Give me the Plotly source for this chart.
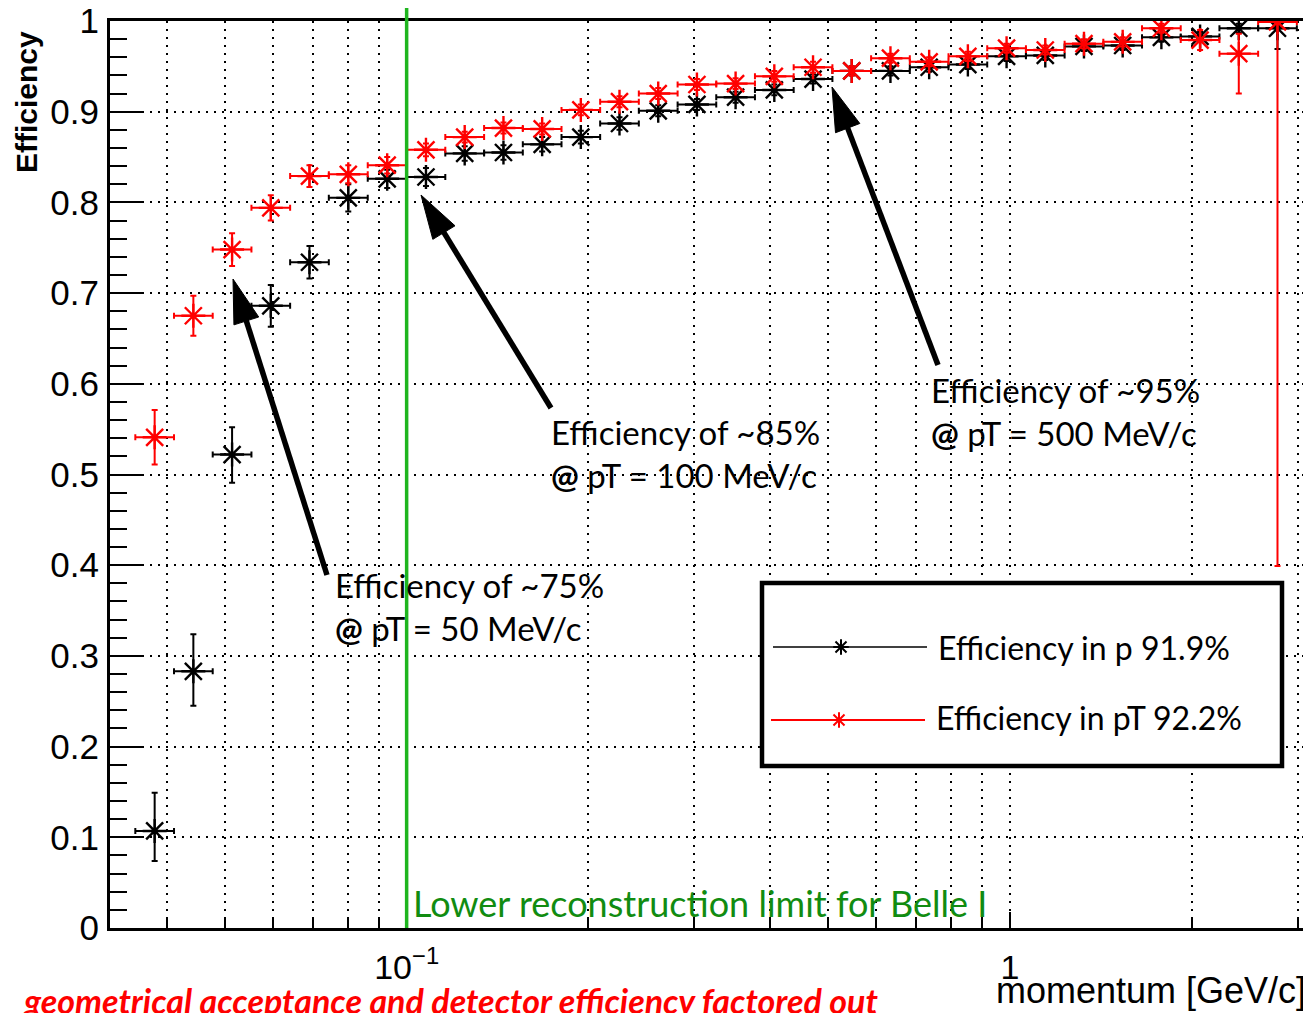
import math
import plotly.graph_objects as go

# ---------------- data ----------------
bin_edges = [0.0355, 0.04115, 0.0477, 0.0553, 0.0641, 0.0743, 0.0862, 0.1,
             0.1159, 0.1344, 0.1558, 0.1806, 0.2093, 0.2426, 0.2813, 0.326,
             0.3779, 0.4381, 0.5079, 0.5887, 0.6825, 0.7911, 0.9171, 1.0631,
             1.2323, 1.4285, 1.6559, 1.9195, 2.2251, 2.5793, 2.99]

eff_p = [0.107, 0.283, 0.522, 0.686, 0.734, 0.805, 0.826, 0.828, 0.854, 0.855,
         0.864, 0.872, 0.887, 0.901, 0.908, 0.916, 0.924, 0.936, 0.945, 0.945,
         0.949, 0.952, 0.961, 0.962, 0.972, 0.973, 0.982, 0.983, 0.992, 0.992]
eff_p_up = [0.042, 0.041, 0.030, 0.023, 0.018, 0.015, 0.010, 0.010, 0.008, 0.008,
            0.008, 0.007, 0.007, 0.006, 0.006, 0.006, 0.006, 0.005, 0.005, 0.005,
            0.005, 0.005, 0.005, 0.005, 0.005, 0.005, 0.005, 0.005, 0.005, 0.005]
eff_p_dn = [0.033, 0.038, 0.031, 0.023, 0.018, 0.015, 0.010, 0.010, 0.008, 0.008,
            0.008, 0.007, 0.007, 0.006, 0.006, 0.006, 0.006, 0.005, 0.005, 0.005,
            0.005, 0.005, 0.005, 0.005, 0.005, 0.005, 0.005, 0.005, 0.005, 0.023]

eff_pt = [0.541, 0.675, 0.748, 0.794, 0.829, 0.831, 0.841, 0.858, 0.872, 0.882,
          0.881, 0.902, 0.911, 0.920, 0.930, 0.931, 0.939, 0.949, 0.945, 0.959,
          0.955, 0.961, 0.970, 0.968, 0.975, 0.977, 0.992, 0.979, 0.964, 0.999]
eff_pt_up = [0.030, 0.022, 0.018, 0.014, 0.012, 0.010, 0.009, 0.007, 0.006, 0.006,
             0.006, 0.006, 0.006, 0.006, 0.006, 0.006, 0.006, 0.006, 0.005, 0.005,
             0.005, 0.005, 0.005, 0.005, 0.005, 0.005, 0.005, 0.011, 0.022, 0.0]
eff_pt_dn = [0.030, 0.022, 0.018, 0.014, 0.012, 0.010, 0.009, 0.007, 0.006, 0.006,
             0.006, 0.006, 0.006, 0.006, 0.006, 0.006, 0.006, 0.006, 0.005, 0.005,
             0.005, 0.005, 0.005, 0.005, 0.005, 0.005, 0.005, 0.011, 0.044, 0.60]

legend_labels = ["Efficiency in p 91.9%", "Efficiency in pT 92.2%"]
limit_p = 0.1
x_major_ticks = [0.1, 1]
x_major_text = ["10<sup>\u22121</sup>", "1"]
x_minor_ticks = [0.04, 0.05, 0.06, 0.07, 0.08, 0.09, 0.2, 0.3, 0.4, 0.5,
                 0.6, 0.7, 0.8, 0.9, 2, 3]

# ---------------- derived ----------------
lo = bin_edges[:-1]
hi = bin_edges[1:]
centers = [math.sqrt(a * b) for a, b in zip(lo, hi)]
ex_plus = [h - c for h, c in zip(hi, centers)]
ex_minus = [c - l for c, l in zip(centers, lo)]

# page is shown with the browser's default 8px body margin
OFF = 8
W, H = 1311 - OFF, 1013 - OFF
L, R, T, B = 110, 1308, 21, 928  # plot area in page pixels

def pxx(p):
    return (p - L) / (R - L)

def pxy(p):
    return (B - p) / (B - T)

fig = go.Figure()

def add_series(vals, up, dn, color):
    fig.add_trace(go.Scatter(
        x=centers, y=vals, mode="markers",
        marker=dict(symbol="asterisk-open", size=20, color=color,
                    line=dict(color=color, width=2.4)),
        error_x=dict(type="data", symmetric=False, array=ex_plus,
                     arrayminus=ex_minus, color=color, thickness=2, width=3),
        error_y=dict(type="data", symmetric=False, array=up,
                     arrayminus=dn, color=color, thickness=2, width=3),
        showlegend=False, cliponaxis=True,
    ))

add_series(eff_p, eff_p_up, eff_p_dn, "black")
add_series(eff_pt, eff_pt_up, eff_pt_dn, "#ff0000")

# legend background (white box) on an overlay axis spanning the plot area
bx0, bx1, by0, by1 = pxx(762), pxx(1282), pxy(766), pxy(583)
fig.add_trace(go.Scatter(
    x=[bx0, bx1, bx1, bx0, bx0], y=[by0, by0, by1, by1, by0],
    mode="lines", fill="toself", fillcolor="white",
    line=dict(color="white", width=0),
    xaxis="x2", yaxis="y2", showlegend=False, hoverinfo="skip"))
# legend sample lines and markers
fig.add_trace(go.Scatter(
    x=[pxx(773), pxx(927)], y=[pxy(647), pxy(647)], mode="lines",
    line=dict(color="black", width=1.5),
    xaxis="x2", yaxis="y2", showlegend=False, hoverinfo="skip"))
fig.add_trace(go.Scatter(
    x=[pxx(771), pxx(925)], y=[pxy(720), pxy(720)], mode="lines",
    line=dict(color="#ff0000", width=2),
    xaxis="x2", yaxis="y2", showlegend=False, hoverinfo="skip"))
fig.add_trace(go.Scatter(
    x=[pxx(841), pxx(839)], y=[pxy(647), pxy(720)], mode="markers",
    marker=dict(symbol="asterisk-open", size=13,
                color=["black", "#ff0000"],
                line=dict(color=["black", "#ff0000"], width=2)),
    xaxis="x2", yaxis="y2", showlegend=False, hoverinfo="skip"))

shapes = []
# green limit line
shapes.append(dict(type="line", xref="x", yref="paper", x0=limit_p, x1=limit_p,
                   y0=0, y1=pxy(7), line=dict(color="#1fb51f", width=3.5),
                   layer="above"))
# legend border
shapes.append(dict(type="rect", xref="paper", yref="paper",
                   x0=bx0, x1=bx1, y0=by0, y1=by1,
                   line=dict(color="black", width=4.5), layer="above"))

# arrows (tail -> tip, in page pixels)
arrows = [((327, 575), (233, 279)), ((551, 408), (421, 195)), ((938, 365), (832, 87))]
HL, HW = 44, 13
for (tx, ty), (hx, hy) in arrows:
    dx, dy = hx - tx, hy - ty
    n = math.hypot(dx, dy)
    ux, uy = dx / n, dy / n
    bx, by = hx - ux * HL, hy - uy * HL
    px_, py_ = -uy, ux
    shapes.append(dict(type="line", xref="paper", yref="paper",
                       x0=pxx(tx), y0=pxy(ty), x1=pxx(bx + ux * 4), y1=pxy(by + uy * 4),
                       line=dict(color="black", width=5.5), layer="above"))
    path = "M {},{} L {},{} L {},{} Z".format(
        pxx(hx), pxy(hy),
        pxx(bx + px_ * HW), pxy(by + py_ * HW),
        pxx(bx - px_ * HW), pxy(by - py_ * HW))
    shapes.append(dict(type="path", xref="paper", yref="paper", path=path,
                       fillcolor="black", line=dict(color="black", width=1),
                       layer="above"))

ann_font = dict(family="Lato, Open Sans, sans-serif", size=33, color="black")
annotations = []
texts = [
    ("Efficiency of ~75%", 333, 585), ("<b>@</b> pT = 50 MeV/c", 333, 628),
    ("Efficiency of ~85%", 549, 432), ("<b>@</b> pT = 100 MeV/c", 549, 475),
    ("Efficiency of ~95%", 929, 390), ("<b>@</b> pT = 500 MeV/c", 929, 433),
]
for t, x, y in texts:
    annotations.append(dict(text=t, xref="paper", yref="paper", x=pxx(x), y=pxy(y),
                            xanchor="left", yanchor="middle", showarrow=False,
                            font=ann_font))
# legend text
leg_font = dict(family="Lato, Open Sans, sans-serif", size=32, color="black")
annotations.append(dict(text=legend_labels[0], xref="paper", yref="paper",
                        x=pxx(936), y=pxy(647), xanchor="left", yanchor="middle",
                        showarrow=False, font=leg_font))
annotations.append(dict(text=legend_labels[1], xref="paper", yref="paper",
                        x=pxx(934), y=pxy(717), xanchor="left", yanchor="middle",
                        showarrow=False, font=leg_font))
# green limit label
annotations.append(dict(text="Lower reconstruction limit for Belle I", xref="paper",
                        yref="paper", x=pxx(411), y=pxy(903), xanchor="left",
                        yanchor="middle", showarrow=False,
                        font=dict(family="Lato, Open Sans, sans-serif", size=36,
                                  color="#118c11")))
# axis titles
annotations.append(dict(text="<b>Efficiency</b>", xref="paper", yref="paper",
                        x=pxx(26), y=pxy(102), xanchor="center", yanchor="middle",
                        textangle=-90, showarrow=False,
                        font=dict(family="Liberation Sans, Arial, sans-serif",
                                  size=30, color="black")))
annotations.append(dict(text="momentum [GeV/c]", xref="paper", yref="paper",
                        x=pxx(1308), y=pxy(990), xanchor="right", yanchor="middle",
                        showarrow=False,
                        font=dict(family="Liberation Sans, Arial, sans-serif",
                                  size=36, color="black")))
# red note
annotations.append(dict(text="<b><i>geometrical acceptance and detector efficiency factored out</i></b>",
                        xref="paper", yref="paper", x=pxx(20), y=pxy(1000),
                        xanchor="left", yanchor="middle", showarrow=False,
                        font=dict(family="Lato, Open Sans, sans-serif", size=34,
                                  color="#ff0000")))

tick_font = dict(family="Liberation Sans, Arial, sans-serif", size=35, color="black")

fig.update_layout(
    width=W, height=H,
    margin=dict(l=L - OFF, r=W - (R - OFF), t=T - OFF, b=H - (B - OFF), pad=0,
                autoexpand=False),
    paper_bgcolor="white", plot_bgcolor="white",
    showlegend=False,
    shapes=shapes, annotations=annotations,
    xaxis=dict(type="log", automargin=False,
               range=[math.log10(0.03223), math.log10(3.12)],
               tickmode="array", tickvals=x_major_ticks, ticktext=x_major_text,
               ticks="inside", ticklen=16, tickwidth=2, tickcolor="black",
               tickfont=dict(family="Liberation Sans, Arial, sans-serif", size=34,
                             color="black"),
               ticklabelstandoff=7, ticklabeloverflow="allow",
               showline=True, linecolor="black", linewidth=2.5, mirror=True,
               showgrid=True, gridcolor="black", gridwidth=2, griddash="2px,6px",
               zeroline=False,
               minor=dict(tickmode="array", tickvals=x_minor_ticks, ticks="inside",
                          ticklen=10, tickwidth=2, tickcolor="black",
                          showgrid=True, gridcolor="black", gridwidth=2,
                          griddash="2px,6px")),
    yaxis=dict(range=[0, 1], automargin=False, tickmode="linear", tick0=0, dtick=0.1,
               tickformat="~g",
               ticks="inside", ticklen=33, tickwidth=2, tickcolor="black",
               tickfont=tick_font, ticklabelstandoff=1, ticklabeloverflow="allow",
               showline=True, linecolor="black", linewidth=3, mirror=True,
               showgrid=True, gridcolor="black", gridwidth=2, griddash="2px,6px",
               zeroline=False,
               minor=dict(dtick=0.02, ticks="inside", ticklen=17, tickwidth=2,
                          tickcolor="black", showgrid=False)),
    xaxis2=dict(overlaying="x", range=[0, 1], visible=False, fixedrange=True),
    yaxis2=dict(overlaying="y", range=[0, 1], visible=False, fixedrange=True),
)

fig.write_html("out.html")
